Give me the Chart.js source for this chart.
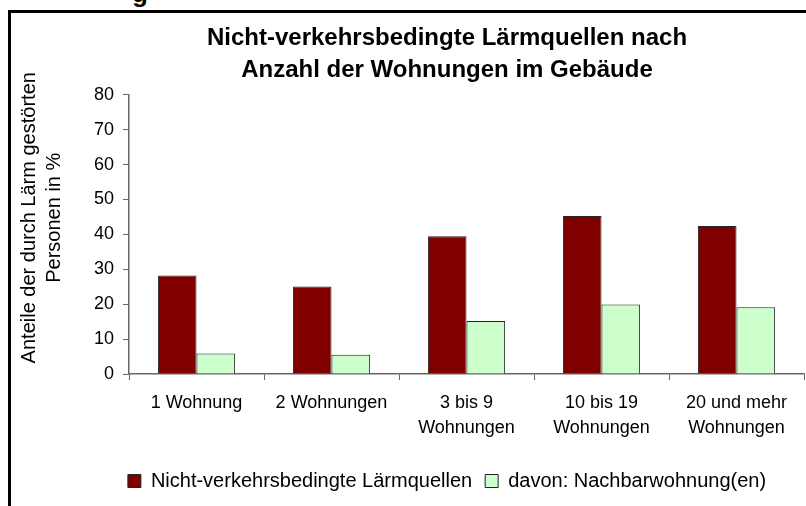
<!DOCTYPE html>
<html>
<head>
<meta charset="utf-8">
<script src="https://cdn.jsdelivr.net/npm/chart.js@4"></script>
<style>
  html, body { margin: 0; padding: 0; background: #fff; overflow: hidden; }
  body { width: 806px; height: 506px; position: relative; font-family: "Liberation Sans", Arial, sans-serif; }
  #cut { position: absolute; left: 132px; top: -22px; font: bold 26px "Liberation Sans", Arial, sans-serif; }
  #frame { position: absolute; left: 8px; top: 10px; width: 890px; height: 520px; border: 3px solid #000; box-sizing: border-box; }
  #wrap { position: absolute; left: 11px; top: 13px; width: 872px; height: 488px; }
</style>
</head>
<body>
<div id="cut">g</div>
<div id="frame"></div>
<div id="wrap"><canvas id="chart"></canvas></div>
<script>
// categories and values
const categories = [
  '1 Wohnung',
  '2 Wohnungen',
  ['3 bis 9', 'Wohnungen'],
  ['10 bis 19', 'Wohnungen'],
  ['20 und mehr', 'Wohnungen']
];
const totalNoise = [28.2, 25.1, 39.5, 45.3, 42.4];
const neighbourFlat = [5.9, 5.5, 15.2, 19.9, 19.1];
const yTicks = [0, 10, 20, 30, 40, 50, 60, 70, 80];

const family = '"Liberation Sans", Arial, sans-serif';
const font = { family, size: 18, lineHeight: 1.4 };

// leading blanks lift the rotated axis title a bit above the plot centre, as in the original
const lift = '      ';

new Chart(document.getElementById('chart'), {
  type: 'bar',
  data: {
    labels: categories,
    datasets: [
      {
        label: 'Nicht-verkehrsbedingte Lärmquellen',
        data: totalNoise,
        backgroundColor: '#800000',
        borderColor: '#222',
        borderWidth: 1
      },
      {
        label: 'davon: Nachbarwohnung(en)',
        data: neighbourFlat,
        backgroundColor: '#ccffcc',
        borderColor: '#222',
        borderWidth: 1
      }
    ]
  },
  options: {
    responsive: true,
    maintainAspectRatio: false,
    animation: false,
    layout: { padding: 0 },
    datasets: { bar: { categoryPercentage: 0.572, barPercentage: 1 } },
    scales: {
      x: {
        grid: { display: true, drawOnChartArea: false, tickLength: 6, color: '#666', offset: true },
        border: { color: '#666', width: 1.5 },
        ticks: { color: '#000', font, padding: 10, maxRotation: 0, autoSkip: false },
        afterFit: s => { s.height = 84; }
      },
      y: {
        min: 0,
        max: 80,
        afterBuildTicks: axis => { axis.ticks = yTicks.map(v => ({ value: v })); },
        grid: { display: true, drawOnChartArea: false, tickLength: 6, color: '#666' },
        border: { color: '#666', width: 1.5 },
        ticks: { color: '#000', font, padding: 9 },
        title: {
          display: true,
          text: [lift + 'Anteile der durch Lärm gestörten', lift + 'Personen in %'],
          color: '#000',
          font: { family, size: 20, lineHeight: 1.25 },
          padding: { top: 6, bottom: 10 }
        },
        afterFit: s => { s.width = 118; }
      },
      // empty right-hand axis, only keeps the plot clear of the frame's right part
      spare: {
        type: 'linear',
        position: 'right',
        display: true,
        grid: { display: false },
        border: { display: false },
        ticks: { display: false },
        afterFit: s => { s.width = 79; }
      }
    },
    plugins: {
      title: {
        display: true,
        text: ['Nicht-verkehrsbedingte Lärmquellen nach', 'Anzahl der Wohnungen im Gebäude'],
        color: '#000',
        font: { family, size: 24, weight: 'bold', lineHeight: 1.33 },
        padding: { top: 9, bottom: 9 }
      },
      legend: {
        position: 'bottom',
        labels: {
          color: '#000',
          font: { family, size: 20 },
          boxWidth: 13,
          boxHeight: 13,
          padding: 13
        }
      },
      tooltip: { enabled: false }
    }
  }
});
</script>
</body>
</html>
